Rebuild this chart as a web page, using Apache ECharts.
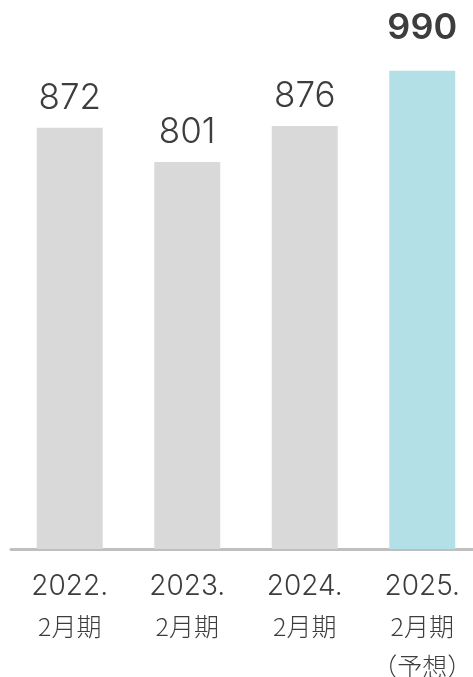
<!DOCTYPE html>
<html>
<head>
<meta charset="utf-8">
<style>
  html, body { margin: 0; padding: 0; background: #ffffff; overflow: hidden; }
  #chart { width: 473px; height: 677px; }
</style>
<script src="https://cdn.jsdelivr.net/npm/echarts@6/dist/echarts.min.js"></script>
</head>
<body>
<div id="chart"></div>
<script>
const years = ['2022.', '2023.', '2024.', '2025.'];
const periods = ['2月期', '2月期', '2月期', '2月期'];
const notes = ['', '', '', '（予想）'];
const values = [872, 801, 876, 990];
const forecastIndex = 3;

const categories = years.map((y, i) => y + '\n' + periods[i] + (notes[i] ? '\n' + notes[i] : ''));

const FONT = 'Inter, "Noto Sans", "Noto Sans CJK JP", sans-serif';
const CJK = '"Noto Sans CJK JP", sans-serif';
const chart = echarts.init(document.getElementById('chart'), null, { renderer: 'canvas' });

const data = values.map((v, i) => {
  const isF = i === forecastIndex;
  return {
    value: v,
    itemStyle: { color: isF ? '#b3dfe7' : '#d9d9d9' },
    label: isF ? {
      fontSize: 36,
      fontWeight: 600,
      distance: 25
    } : {}
  };
});

chart.setOption({
  animation: false,
  backgroundColor: '#ffffff',
  grid: { left: 11, right: -8, top: 66, bottom: 128, containLabel: false, outerBoundsMode: 'none' },
  xAxis: {
    type: 'category',
    data: categories,
    offset: 1.5,
    axisLine: { show: true, lineStyle: { color: '#bfbfbf', width: 3 } },
    axisTick: { show: false },
    axisLabel: {
      margin: 16,
      interval: 0,
      color: '#3d3d3d',
      formatter: function (val) {
        const parts = val.split('\n');
        return parts.map((p, k) => (k === 0 ? '{a|' + p + '}' : '{b|' + p + '}')).join('\n');
      },
      rich: {
        a: { fontFamily: FONT, fontSize: 28, fontWeight: 300, lineHeight: 40, color: '#3d3d3d' },
        b: { fontFamily: CJK, fontSize: 25, fontWeight: 300, lineHeight: 40, color: '#3d3d3d' }
      }
    }
  },
  yAxis: {
    type: 'value',
    min: 0,
    max: 1000,
    show: false,
    splitLine: { show: false }
  },
  series: [{
    type: 'bar',
    data: data,
    barWidth: 66,
    label: {
      show: true,
      position: 'top',
      distance: 12,
      color: '#3d3d3d',
      fontFamily: FONT,
      fontSize: 35,
      fontWeight: 300
    }
  }]
});
</script>
</body>
</html>
